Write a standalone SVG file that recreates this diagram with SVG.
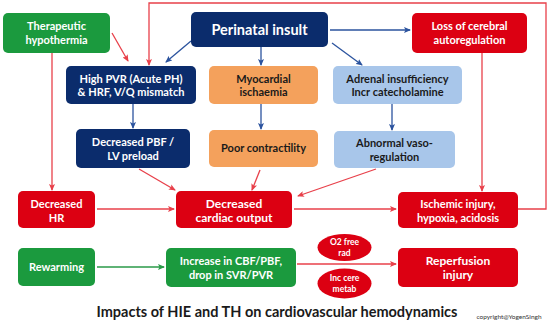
<svg xmlns="http://www.w3.org/2000/svg" width="550" height="324" viewBox="0 0 550 324">
<style>
text{font-family:Lato,"Open Sans","DejaVu Sans",sans-serif;font-weight:bold;text-anchor:middle;font-size:11px}
.w{fill:#fff}.d{fill:#1a1a1a}
.green{fill:#1b9a3e}.navy{fill:#0b2c6c}.red{fill:#dc0012}.orange{fill:#f4a15c}.lblue{fill:#a8c6ea}
.r{stroke:#e8404a;stroke-width:1.3;fill:none;marker-end:url(#ar)}
.b{stroke:#2b539e;stroke-width:1.3;fill:none;marker-end:url(#ab)}
.g{stroke:#2a9a48;stroke-width:1.3;fill:none;marker-end:url(#ag)}
</style>
<defs>
<marker id="ar" markerWidth="7" markerHeight="6" refX="6" refY="3" orient="auto" markerUnits="userSpaceOnUse"><path d="M0,0 L7,3 L0,6 L1.5,3 z" fill="#e8404a"/></marker>
<marker id="ab" markerWidth="7" markerHeight="6" refX="6" refY="3" orient="auto" markerUnits="userSpaceOnUse"><path d="M0,0 L7,3 L0,6 L1.5,3 z" fill="#2b539e"/></marker>
<marker id="ag" markerWidth="7" markerHeight="6" refX="6" refY="3" orient="auto" markerUnits="userSpaceOnUse"><path d="M0,0 L7,3 L0,6 L1.5,3 z" fill="#2a9a48"/></marker>
</defs>
<rect width="550" height="324" fill="#fff"/>
<g id="connectors">
<path class="r" d="M518,209 H546 V3 H149 V65"/>
<path class="r" d="M112,33 L128,61"/>
<path class="r" d="M52,53 V190"/>
<path class="b" d="M191,41 L166,62"/>
<path class="b" d="M261,47 V65"/>
<path class="b" d="M330,30 H410"/>
<path class="b" d="M332,43 L362,65"/>
<path class="r" d="M482,53 V191"/>
<path class="b" d="M133,104 V128"/>
<path class="b" d="M261,104 V129"/>
<path class="b" d="M392,104 V130"/>
<path class="r" d="M139,169 L175,190"/>
<path class="r" d="M260,170 L252,190"/>
<path class="r" d="M376,169 L298,196"/>
<path class="r" d="M97,209 H174"/>
<path class="r" d="M294,209 H396"/>
<path class="g" d="M97,267 H164"/>
<path class="r" d="M297,264 H396"/>
</g>
<g id="therapeutic-hypothermia"><rect class="green" x="3" y="13" width="107" height="40" rx="5"/><text class="w" x="56.5" y="30">Therapeutic</text><text class="w" x="56.5" y="44">hypothermia</text></g>
<g id="perinatal-insult"><rect class="navy" x="191" y="12" width="137" height="35" rx="5"/><text class="w" x="259.5" y="35" style="font-size:14.5px">Perinatal insult</text></g>
<g id="loss-autoregulation"><rect class="red" x="412" y="13" width="115" height="40" rx="5"/><text class="w" x="469.5" y="30">Loss of cerebral</text><text class="w" x="469.5" y="44">autoregulation</text></g>
<g id="high-pvr"><rect class="navy" x="66" y="66" width="130" height="38" rx="5"/><text class="w" x="131" y="83">High PVR (Acute PH)</text><text class="w" x="131" y="96">&amp; HRF, V/Q mismatch</text></g>
<g id="myocardial-ischaemia"><rect class="orange" x="209" y="66" width="109" height="38" rx="5"/><text class="d" x="263.5" y="83">Myocardial</text><text class="d" x="263.5" y="96">ischaemia</text></g>
<g id="adrenal-insufficiency"><rect class="lblue" x="333" y="66" width="129" height="38" rx="5"/><text class="d" x="397.5" y="83">Adrenal insufficiency</text><text class="d" x="397.5" y="96">Incr catecholamine</text></g>
<g id="decreased-pbf"><rect class="navy" x="76" y="129" width="114" height="39" rx="5"/><text class="w" x="133" y="146">Decreased PBF /</text><text class="w" x="133" y="160">LV preload</text></g>
<g id="poor-contractility"><rect class="orange" x="209" y="130" width="109" height="37" rx="5"/><text class="d" x="263.5" y="152">Poor contractility</text></g>
<g id="abnormal-vasoregulation"><rect class="lblue" x="334" y="131" width="121" height="37" rx="5"/><text class="d" x="394.5" y="147">Abnormal vaso-</text><text class="d" x="394.5" y="161">regulation</text></g>
<g id="decreased-hr"><rect class="red" x="18" y="191" width="77" height="37" rx="5"/><text class="w" x="56.5" y="208">Decreased</text><text class="w" x="56.5" y="222">HR</text></g>
<g id="decreased-co"><rect class="red" x="176" y="191" width="116" height="37" rx="5"/><text class="w" x="234" y="208" style="font-size:12px">Decreased</text><text class="w" x="234" y="222" style="font-size:12px">cardiac output</text></g>
<g id="ischemic-injury"><rect class="red" x="398" y="192" width="120" height="36" rx="5"/><text class="w" x="458" y="208">Ischemic injury,</text><text class="w" x="458" y="222">hypoxia, acidosis</text></g>
<g id="rewarming"><rect class="green" x="18" y="248" width="77" height="38" rx="5"/><text class="w" x="56.5" y="271">Rewarming</text></g>
<g id="increase-cbf"><rect class="green" x="166" y="248" width="130" height="39" rx="5"/><text class="w" x="231" y="265">Increase in CBF/PBF,</text><text class="w" x="231" y="279">drop in SVR/PVR</text></g>
<g id="o2-free-rad"><ellipse class="red" cx="344.5" cy="247.5" rx="27" ry="13.5"/><text class="w" x="344.5" y="245" style="font-size:8.5px">O2 free</text><text class="w" x="344.5" y="256" style="font-size:8.5px">rad</text></g>
<g id="inc-cere-metab"><ellipse class="red" cx="344.5" cy="283.5" rx="27" ry="15"/><text class="w" x="344.5" y="281" style="font-size:8.5px">Inc cere</text><text class="w" x="344.5" y="292" style="font-size:8.5px">metab</text></g>
<g id="reperfusion-injury"><rect class="red" x="398" y="248" width="120" height="39" rx="5"/><text class="w" x="458" y="265" style="font-size:12px">Reperfusion</text><text class="w" x="458" y="279" style="font-size:12px">injury</text></g>
<text x="277" y="317" class="d" style="font-size:14.5px">Impacts of HIE and TH on cardiovascular hemodynamics</text>
<text x="509" y="319" style="font-size:6.5px;font-weight:normal;fill:#333">copyright@YogenSingh</text>
</svg>
